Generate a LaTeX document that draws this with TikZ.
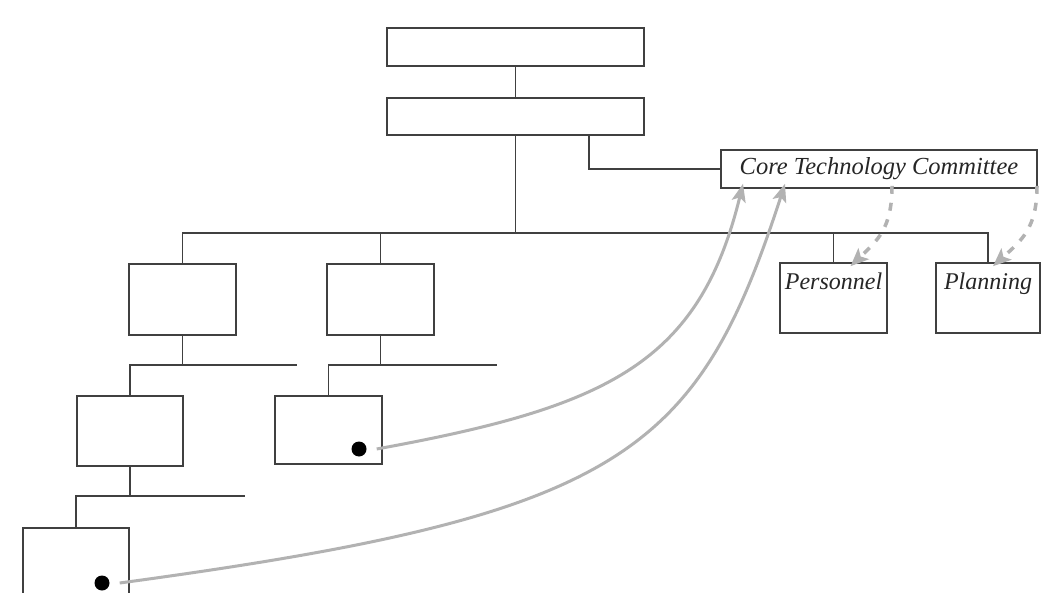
\documentclass[tikz,border=0pt]{standalone}
\usepackage{fontspec}
\setmainfont{Liberation Serif}
\usetikzlibrary{arrows.meta}
\begin{document}
\begin{tikzpicture}[x=1pt,y=-1pt,
  box/.style={draw=black!75,line width=1.6pt,rectangle,inner sep=0pt,fill=white},
  link/.style={draw=black!75,line width=1.6pt},
  lbl/.style={font=\fontsize{24}{28}\selectfont\itshape,text=black!85},
  dot/.style={circle,fill=black,inner sep=0pt,minimum size=15pt},
  flow/.style={draw=black!30,line width=3pt,-{Stealth[length=18pt,width=14pt,inset=4pt]}},
  dflow/.style={draw=black!30,line width=3.5pt,dash pattern=on 8pt off 9pt,-{Stealth[length=18pt,width=15pt,inset=4pt]}}]
\clip (0,0) rectangle (1043,593);
\fill[white] (0,0) rectangle (1043,593);
% boxes
\node[box,minimum width=257pt,minimum height=38pt] (top) at (515.5,47) {};
\node[box,minimum width=257pt,minimum height=37pt] (mid) at (515.5,116.5) {};
\node[box,minimum width=316pt,minimum height=38pt,lbl,font=\fontsize{24.5}{28}\selectfont\itshape] (committee) at (879,169) {Core Technology Committee};
\node[box,minimum width=107pt,minimum height=70pt,
  label={[lbl,anchor=north,yshift=-7pt]north:Personnel}] (personnel) at (833.5,298) {};
\node[box,minimum width=104pt,minimum height=70pt,
  label={[lbl,anchor=north,yshift=-7pt]north:Planning}] (planning) at (988,298) {};
\node[box,minimum width=107pt,minimum height=71pt] (A1) at (182.5,299.5) {};
\node[box,minimum width=107pt,minimum height=71pt] (B1) at (380.5,299.5) {};
\node[box,minimum width=106pt,minimum height=70pt] (A2) at (130,431) {};
\node[box,minimum width=107pt,minimum height=68pt] (B2) at (328.5,430) {};
\node[box,minimum width=106pt,minimum height=92pt] (A3) at (76,574) {};
% dots
\node[dot] (dotB) at (359,449) {};
\node[dot] (dotA) at (102,583) {};
% coordinates for buses
\coordinate (bus) at (515.5,233);
\coordinate (busAend) at (297,365);
\coordinate (busBend) at (497,365);
\coordinate (busCend) at (245,496);
% connectors
\draw[link] (top.south) -- (mid.north);
\draw[link] (mid.south) -- (bus);
\draw[link] (A1.north) |- (bus) -| (planning.north);
\draw[link] (B1.north) -- (B1.north |- bus);
\draw[link] (personnel.north) -- (personnel.north |- bus);
\draw[link] ([xshift=73.5pt]mid.south) |- (committee.west);
\draw[link] (A1.south) -- (A1.south |- busAend);
\draw[link] (A2.north) |- (busAend);
\draw[link] (B1.south) -- (B1.south |- busBend);
\draw[link] (B2.north) |- (busBend);
\draw[link] (A2.south) -- (A2.south |- busCend);
\draw[link] (A3.north) |- (busCend);
% gray arrows
\draw[flow] ([xshift=10pt]dotB.east) .. controls (607,407) and (699,364) .. ([xshift=-136pt,yshift=5pt]committee.south);
\draw[flow] ([xshift=10pt]dotA.east) .. controls (622,515) and (697,455) .. ([xshift=-94pt,yshift=5pt]committee.south);
\draw[dflow] ([xshift=13pt,yshift=3pt]committee.south) .. controls (892,228) and (878,240) .. ([xshift=17pt,yshift=-4pt]personnel.north);
\draw[dflow] ([xshift=158pt,yshift=3pt]committee.south) .. controls (1037,228) and (1022,240) .. ([xshift=5pt,yshift=-4pt]planning.north);
\end{tikzpicture}
\end{document}
